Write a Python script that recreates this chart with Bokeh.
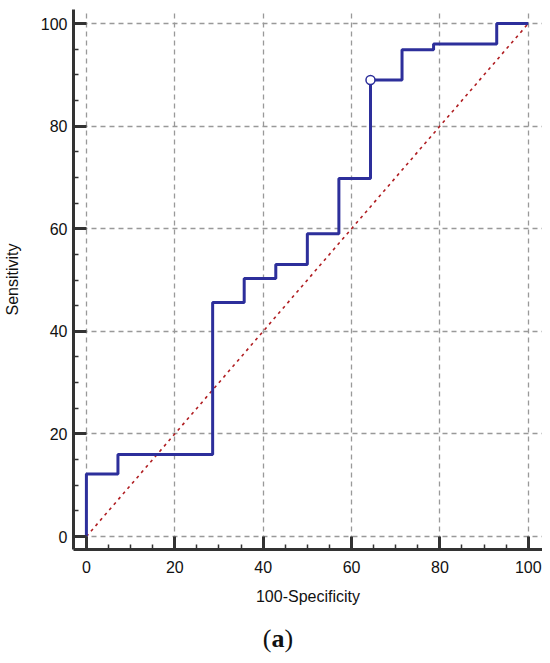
from bokeh.plotting import figure
from bokeh.models import Range1d, FixedTicker, Div
from bokeh.layouts import column
from bokeh.embed import file_html
from bokeh.resources import INLINE

# ROC curve data
fpr = [0, 0, 7.14, 28.57, 35.71, 42.86, 50.0, 57.14, 64.29, 71.43, 78.57, 92.86, 100]
tpr = [0, 12.2, 16.0, 45.6, 50.3, 53.0, 59.0, 69.8, 89.0, 94.9, 96.0, 100, 100]
ref_x = [0, 100]
ref_y = [0, 100]
cut_x = [64.29]
cut_y = [89.0]
major_ticks = [0, 20, 40, 60, 80, 100]
minor_ticks = [5, 10, 15, 25, 30, 35, 45, 50, 55, 65, 70, 75, 85, 90, 95]

FONT = "Liberation Sans"

p = figure(width=542, height=623, output_backend="svg", toolbar_location=None,
           x_range=Range1d(-2.92, 103.22), y_range=Range1d(-2.53, 102.73),
           min_border_left=70, min_border_right=0, min_border_top=9, min_border_bottom=74)
p.outline_line_color = None
p.background_fill_color = "white"
p.border_fill_color = "white"

for ax, lab in ((p.xaxis[0], "100-Specificity"), (p.yaxis[0], "Sensitivity")):
    ax.ticker = FixedTicker(ticks=major_ticks, minor_ticks=minor_ticks)
    ax.axis_label = lab
    ax.axis_label_text_font = FONT
    ax.axis_label_text_font_size = "16px"
    ax.axis_label_text_font_style = "normal"
    ax.axis_label_text_color = "#111111"
    ax.major_label_text_font = FONT
    ax.major_label_text_font_size = "16px"
    ax.major_label_text_color = "#111111"
    ax.axis_line_width = 3
    ax.axis_line_color = "#333333"
    ax.major_tick_in = 13
    ax.major_tick_out = 0
    ax.major_tick_line_width = 3
    ax.major_tick_line_color = "#333333"
    ax.minor_tick_in = 5
    ax.minor_tick_out = 0
    ax.minor_tick_line_width = 1.5
    ax.minor_tick_line_color = "#333333"

p.xaxis.major_label_standoff = 11
p.xaxis.axis_label_standoff = 12
p.yaxis.major_label_standoff = 6
p.yaxis.axis_label_standoff = 17

for g in (p.xgrid[0], p.ygrid[0]):
    g.ticker = FixedTicker(ticks=major_ticks)
    g.grid_line_color = "#999999"
    g.grid_line_dash = "5 4"
    g.grid_line_width = 1.3

p.line(ref_x, ref_y, line_color="#B01E22", line_width=1.6, line_dash="3 4")
p.step(fpr, tpr, mode="after", line_color="#2D2F9B", line_width=3)
p.scatter(cut_x, cut_y, marker="circle", size=9, fill_color="white",
          line_color="#2D2F9B", line_width=1.5)

cap = Div(text='(<b>a</b>)', width=542,
          styles={"text-align": "center", "font-family": "'Liberation Serif'",
                  "font-size": "26px", "color": "#111", "margin-top": "-3px",
                  "padding-left": "4px",
                  "width": "542px", "display": "block"})

layout = column(p, cap, spacing=0)
open("out.html", "w").write(file_html(layout, INLINE))
